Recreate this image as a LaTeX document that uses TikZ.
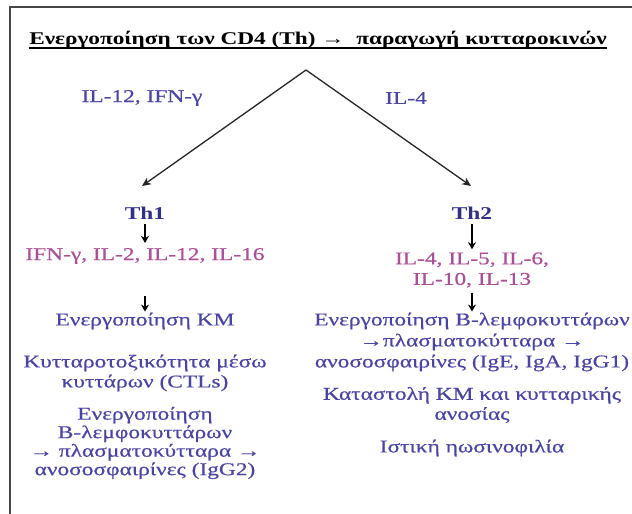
\documentclass[tikz,border=0pt]{standalone}
\usepackage{fontspec}
\setmainfont{Liberation Serif}[FakeStretch=1.3]
\newfontfamily\bodyfont{Liberation Serif}[FakeStretch=1.3,FakeBold=0.5]
\usetikzlibrary{arrows.meta}
\definecolor{tblue}{RGB}{74,68,162}
\definecolor{tpink}{RGB}{170,80,150}
\definecolor{tdark}{RGB}{50,48,132}
\definecolor{framecol}{RGB}{70,70,70}
\tikzset{
  txt/.style={inner sep=0pt, text=tblue, font=\bodyfont\fontsize{18}{20}\selectfont, align=center},
  pinktxt/.style={txt, text=tpink},
  thlabel/.style={inner sep=0pt, text=tdark, font=\fontsize{18}{20}\selectfont\bfseries},
  titletxt/.style={inner sep=0pt, text=black, font=\fontsize{17.9}{20}\selectfont\bfseries},
  diag/.style={draw=black!85, line width=1.3pt, -{Stealth[length=9pt,width=8pt]}},
  dn/.style={draw=black, line width=1.1pt, -{Stealth[length=7pt,width=8pt]}},
  framestyle/.style={draw=framecol, line width=2pt}
}
\begin{document}
\begin{tikzpicture}[x=1pt,y=-1pt]
\useasboundingbox (0,0) rectangle (632,514);
\fill[white] (0,0) rectangle (632,514);
\draw[framestyle] (10,520) -- (10,7) -- (640,7);

\node[titletxt] (title) at (318,40) {Ενεργοποίηση των CD4 (Th) →\ \ παραγωγή κυτταροκινών};
\draw[line width=1.8pt] ([yshift=-3.5pt]title.base west) -- ([yshift=-3.5pt]title.base east);

\coordinate (apex) at (306,70);
\coordinate (tipL) at (142,186);
\coordinate (tipR) at (471,186);
\draw[diag] (apex) -- (tipL);
\draw[diag] (apex) -- (tipR);
\node[txt] (sigL) at (142,98) {IL-12, IFN-γ};
\node[txt] (sigR) at (406,98) {IL-4};

% left column
\node[thlabel] (th1) at (145,213) {Th1};
\node[pinktxt] (cyt1) at (145,256) {IFN-γ, IL-2, IL-12, IL-16};
\node[txt] (km) at (145,321) {Ενεργοποίηση ΚΜ};
\node[txt] (ctl) at (145,373) {Κυτταροτοξικότητα μέσω\\κυττάρων (CTLs)};
\node[txt, font=\bodyfont\fontsize{18}{18.5}\selectfont] (bl1) at (145,443) {Ενεργοποίηση\\Β-λεμφοκυττάρων\\→ πλασματοκύτταρα →\\ανοσοσφαιρίνες (IgG2)};
\draw[dn, shorten <=5pt, shorten >=5pt] (th1.south) -- (cyt1.north);
\draw[dn, shorten <=32pt, shorten >=1pt] (cyt1.south) -- (km.north);

% right column
\node[thlabel] (th2) at (472,213) {Th2};
\node[pinktxt, font=\bodyfont\fontsize{18}{20.5}\selectfont] (cyt2) at (472,270) {IL-4, IL-5, IL-6,\\IL-10, IL-13};
\node[txt, font=\bodyfont\fontsize{18}{21}\selectfont] (bl2) at (472,342) {Ενεργοποίηση Β-λεμφοκυττάρων\\→πλασματοκύτταρα →\\ανοσοσφαιρίνες (IgE, IgA, IgG1)};
\node[txt] (supp) at (472,405) {Καταστολή ΚΜ και κυτταρικής\\ανοσίας};
\node[txt] (eos) at (472,448) {Ιστική ηωσινοφιλία};
\draw[dn, shorten <=5pt, shorten >=3pt] (th2.south) -- (cyt2.north);
\draw[dn, shorten <=5pt, shorten >=1pt] (cyt2.south) -- (bl2.north);
\end{tikzpicture}
\end{document}
